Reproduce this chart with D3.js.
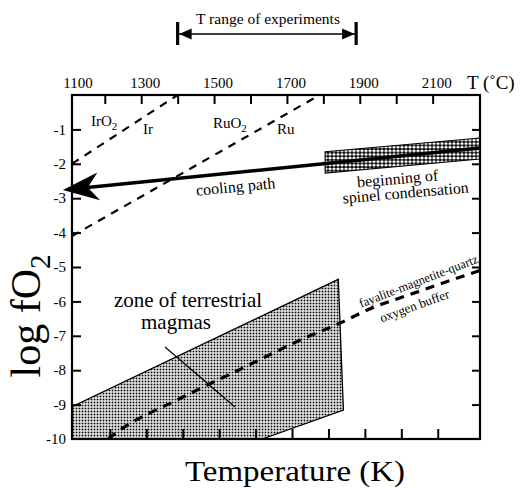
<!DOCTYPE html>
<html>
<head>
<meta charset="utf-8">
<script src="https://cdn.jsdelivr.net/npm/d3@7"></script>
<style>
  body { margin: 0; background: #fff; }
  text { font-family: "Liberation Serif", "Times New Roman", serif; fill: #000; }
</style>
</head>
<body>
<svg id="chart" width="521" height="488"></svg>
<script>
// values
var topTicksC = [1200, 1300, 1400, 1500, 1600, 1700, 1800, 1900, 2000, 2100];
var topLabelsC = [1100, 1300, 1500, 1700, 1900, 2100];
var bottomTicksK = [1500, 1600, 1700, 1800, 1900, 2000, 2100, 2200, 2300, 2400];
var yTicks = [-1, -2, -3, -4, -5, -6, -7, -8, -9];
var yLabels = [-1, -2, -3, -4, -5, -6, -7, -8, -9, -10];
var expRangeC = [1400, 1890];

var irLine = [[1110, -2.0], [1400, 0]];
var ruLine = [[1110, -4.1], [1790, 0]];
var coolingPath = [[2230, -1.54], [1085, -2.76]];
var spinelTop = [[1805, -1.65], [2230, -1.25]];
var spinelBottom = [[1805, -2.27], [2230, -1.86]];
var magmaZone = [[1110, -9.06], [1841, -5.36], [1855, -9.16], [1632, -10], [1110, -10]];
var fmqBuffer = [[1209, -10], [1234, -9.8], [1415, -8.78], [1590, -7.88], [1750, -7.06],
                 [1840, -6.66], [1914, -6.28], [2065, -5.7], [2230, -5.1]];

var svgW = 521, svgH = 488;
var margin = {top: 95, right: 41, bottom: 49, left: 72},
    width = svgW - margin.left - margin.right,
    height = svgH - margin.top - margin.bottom;

var svg = d3.select('#chart');

var defs = svg.append('defs');
var dots = defs.append('pattern')
  .attr('id', 'dots').attr('width', 3).attr('height', 3)
  .attr('patternUnits', 'userSpaceOnUse');
dots.append('rect').attr('width', 3).attr('height', 3).attr('fill', '#fff');
dots.append('rect').attr('x', 0.6).attr('y', 0.6).attr('width', 1.8).attr('height', 1.8).attr('fill', '#000');

var holes = defs.append('pattern')
  .attr('id', 'holes').attr('width', 4).attr('height', 3.6)
  .attr('patternUnits', 'userSpaceOnUse');
holes.append('rect').attr('width', 4).attr('height', 3.6).attr('fill', '#000');
holes.append('ellipse').attr('cx', 2).attr('cy', 1.8).attr('rx', 1.7).attr('ry', 1.45).attr('fill', '#fff');

defs.append('clipPath').attr('id', 'plotclip')
  .append('rect').attr('width', width).attr('height', height);

// scales
var x = d3.scaleLinear().domain([1110, 2230]).range([0, width]);      // deg C
var xK = d3.scaleLinear().domain([1396, 2516]).range([0, width]);     // K (bottom)
var y = d3.scaleLinear().domain([-10, 0]).range([height, 0]);

var g = svg.append('g')
  .attr('transform', 'translate(' + margin.left + ',' + margin.top + ')');

var line = d3.line()
  .x(function(d) { return x(d[0]); })
  .y(function(d) { return y(d[1]); });

var plot = g.append('g').attr('clip-path', 'url(#plotclip)');

// zone of terrestrial magmas
plot.append('path')
  .datum(magmaZone)
  .attr('d', line.curve(d3.curveLinearClosed))
  .attr('fill', 'url(#dots)')
  .attr('stroke', '#000')
  .attr('stroke-width', 1.3);
line.curve(d3.curveLinear);

// FMQ buffer
plot.append('path')
  .datum(fmqBuffer)
  .attr('d', line.curve(d3.curveMonotoneX))
  .attr('fill', 'none')
  .attr('stroke', '#000')
  .attr('stroke-width', 3.2)
  .attr('stroke-dasharray', '9,7');
line.curve(d3.curveLinear);

// metal / oxide buffers
[irLine, ruLine].forEach(function(d) {
  plot.append('path')
    .datum(d)
    .attr('d', line)
    .attr('fill', 'none')
    .attr('stroke', '#000')
    .attr('stroke-width', 2.2)
    .attr('stroke-dasharray', '8,7');
});

// spinel condensation band
plot.append('path')
  .datum(spinelTop.concat(spinelBottom.slice().reverse()))
  .attr('d', line.curve(d3.curveLinearClosed))
  .attr('fill', 'url(#holes)')
  .attr('stroke', '#000')
  .attr('stroke-width', 1.2);
line.curve(d3.curveLinear);

// cooling path with arrow head
var p0 = [x(coolingPath[0][0]), y(coolingPath[0][1])],
    tip = [x(coolingPath[1][0]), y(coolingPath[1][1])];
var len = Math.hypot(tip[0] - p0[0], tip[1] - p0[1]);
var u = [(tip[0] - p0[0]) / len, (tip[1] - p0[1]) / len],
    n = [-u[1], u[0]];
g.append('line')
  .attr('x1', p0[0]).attr('y1', p0[1])
  .attr('x2', tip[0] - 22 * u[0]).attr('y2', tip[1] - 22 * u[1])
  .attr('stroke', '#000').attr('stroke-width', 3.4);
g.append('path')
  .attr('d', 'M' + tip[0] + ',' + tip[1] +
    'L' + (tip[0] - 36 * u[0] + 14 * n[0]) + ',' + (tip[1] - 36 * u[1] + 14 * n[1]) +
    'L' + (tip[0] - 25 * u[0]) + ',' + (tip[1] - 25 * u[1]) +
    'L' + (tip[0] - 36 * u[0] - 14 * n[0]) + ',' + (tip[1] - 36 * u[1] - 14 * n[1]) + 'Z')
  .attr('fill', '#000');

// ticks (all pointing inward)
function ticks(axis) {
  return function(sel) {
    sel.call(axis);
    sel.select('.domain').remove();
    sel.selectAll('.tick line').attr('stroke', '#000').attr('stroke-width', 2);
  };
}
g.append('g').call(ticks(d3.axisTop(x).tickValues(topTicksC).tickSize(-9).tickFormat('')));
g.append('g').attr('transform', 'translate(0,' + height + ')')
  .call(ticks(d3.axisBottom(xK).tickValues(bottomTicksK).tickSize(-10).tickFormat('')));
g.append('g').call(ticks(d3.axisLeft(y).tickValues(yTicks).tickSize(-9).tickFormat('')));
g.append('g').attr('transform', 'translate(' + width + ',0)')
  .call(ticks(d3.axisRight(y).tickValues(yTicks).tickSize(-8).tickFormat('')));

// frame
g.append('rect')
  .attr('width', width).attr('height', height)
  .attr('fill', 'none').attr('stroke', '#000').attr('stroke-width', 2.2);

// tick labels
g.selectAll('.toplab')
  .data(topLabelsC)
  .enter().append('text')
  .attr('x', function(d) { return Math.max(x(d) + 4, 6); })
  .attr('y', -7)
  .attr('text-anchor', 'middle')
  .attr('font-size', 15)
  .text(function(d) { return d; });

g.selectAll('.ylab')
  .data(yLabels)
  .enter().append('text')
  .attr('x', -6)
  .attr('y', function(d) { return y(d); })
  .attr('dy', '0.35em')
  .attr('text-anchor', 'end')
  .attr('font-size', 15)
  .text(function(d) { return d; });

svg.append('text').attr('x', 467).attr('y', 89).attr('font-size', 19).text('T (\u02DAC)');

// axis titles
var yt = svg.append('text')
  .attr('transform', 'translate(40,316) rotate(-90)')
  .attr('text-anchor', 'middle')
  .attr('font-size', 42);
yt.append('tspan').text('log fO');
yt.append('tspan').attr('font-size', 29).attr('dy', 10).text('2');

svg.append('text')
  .attr('x', 295).attr('y', 481)
  .attr('text-anchor', 'middle')
  .attr('font-size', 29)
  .attr('textLength', 220)
  .attr('lengthAdjust', 'spacingAndGlyphs')
  .text('Temperature (K)');

// T range of experiments
var rg = svg.append('g').attr('transform', 'translate(' + margin.left + ',0)');
var ry = 34;
rg.append('line')
  .attr('x1', x(expRangeC[0])).attr('x2', x(expRangeC[1]))
  .attr('y1', ry).attr('y2', ry)
  .attr('stroke', '#000').attr('stroke-width', 1.3);
expRangeC.forEach(function(d, i) {
  var bx = x(d), s = i === 0 ? 1 : -1;
  rg.append('line')
    .attr('x1', bx).attr('x2', bx).attr('y1', 22).attr('y2', 45)
    .attr('stroke', '#000').attr('stroke-width', 3.2);
  rg.append('path')
    .attr('d', 'M' + (bx + s * 1.5) + ',' + ry + 'L' + (bx + s * 14) + ',' + (ry - 5.5) +
      'L' + (bx + s * 14) + ',' + (ry + 5.5) + 'Z')
    .attr('fill', '#000');
});
svg.append('text').attr('x', 268).attr('y', 24).attr('text-anchor', 'middle')
  .attr('font-size', 15.5).text('T range of experiments');

// labels on the buffers
function sub(t, main, s) {
  t.append('tspan').text(main);
  t.append('tspan').attr('font-size', 11).attr('dy', 4).text(s);
}
sub(svg.append('text').attr('x', 91).attr('y', 126).attr('font-size', 15), 'IrO', '2');
svg.append('text').attr('x', 143).attr('y', 134).attr('font-size', 15).text('Ir');
sub(svg.append('text').attr('x', 213).attr('y', 128).attr('font-size', 15), 'RuO', '2');
svg.append('text').attr('x', 277).attr('y', 134).attr('font-size', 15).text('Ru');

svg.append('text')
  .attr('transform', 'translate(236,192) rotate(-5.5)')
  .attr('text-anchor', 'middle').attr('font-size', 16).text('cooling path');
svg.append('text')
  .attr('transform', 'translate(398,184) rotate(-5)')
  .attr('text-anchor', 'middle').attr('font-size', 16).text('beginning of');
svg.append('text')
  .attr('transform', 'translate(406,198) rotate(-5)')
  .attr('text-anchor', 'middle').attr('font-size', 16).text('spinel condensation');

svg.append('text')
  .attr('transform', 'translate(420,285) rotate(-21)')
  .attr('text-anchor', 'middle').attr('font-size', 12.5).text('fayalite-magnetite-quartz');
svg.append('text')
  .attr('transform', 'translate(416,310) rotate(-20)')
  .attr('text-anchor', 'middle').attr('font-size', 13).text('oxygen buffer');

svg.append('text').attr('x', 188).attr('y', 307).attr('text-anchor', 'middle')
  .attr('font-size', 21).text('zone of terrestrial');
svg.append('text').attr('x', 176).attr('y', 329).attr('text-anchor', 'middle')
  .attr('font-size', 21).text('magmas');
svg.append('line')
  .attr('x1', 165).attr('y1', 347).attr('x2', 235).attr('y2', 407)
  .attr('stroke', '#000').attr('stroke-width', 1.2);
</script>
</body>
</html>
